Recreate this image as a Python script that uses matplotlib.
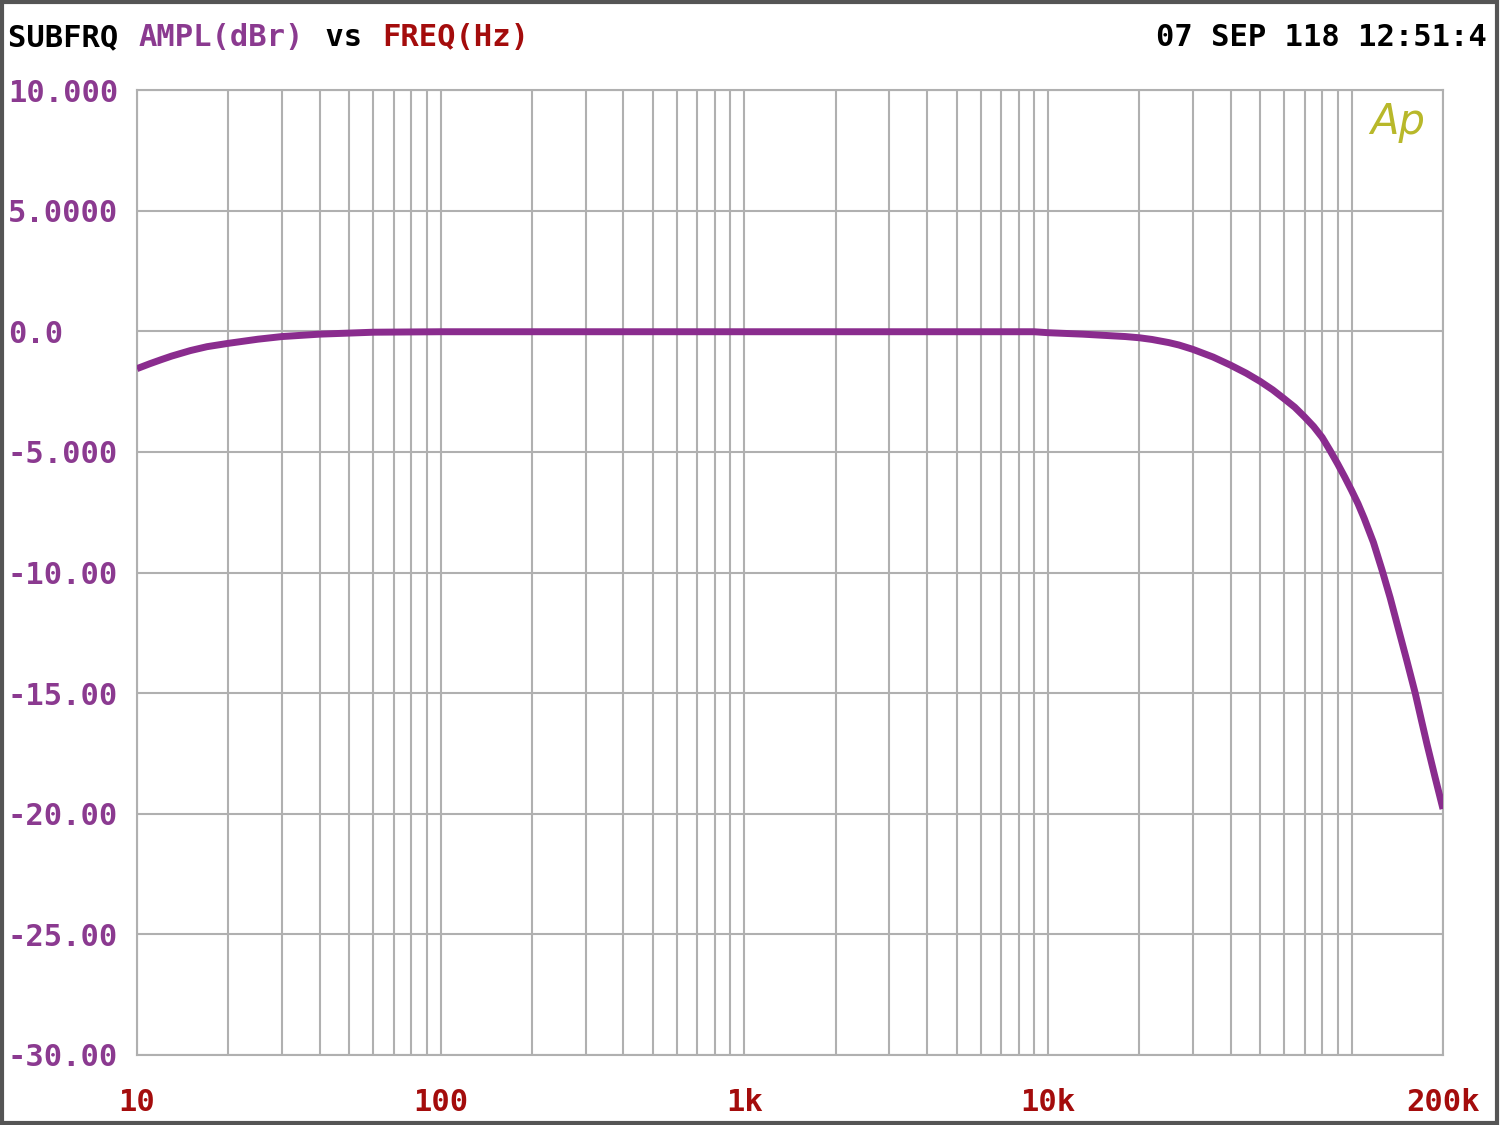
import matplotlib
matplotlib.use('Agg')
import matplotlib.pyplot as plt
from matplotlib.patches import Rectangle
from matplotlib.ticker import FixedLocator, NullFormatter

# 读图得到的频响数据
freq_hz = [10, 11, 12, 13, 15, 17, 20, 25, 30, 40, 60, 100, 1000, 9000,
           10000, 13000, 18000, 20000, 22000, 25000, 27000, 30000, 35000,
           40000, 45000, 50000, 55000, 60000, 65000, 70000, 75000, 80000,
           85000, 90000, 95000, 100000, 105000, 110000, 118000, 126000,
           134000, 142000, 152000, 162000, 170000, 177000, 188000, 200000]
ampl_dbr = [-1.55, -1.35, -1.18, -1.03, -0.80, -0.64, -0.50, -0.33, -0.22,
            -0.12, -0.04, -0.02, -0.02, -0.02, -0.06, -0.12, -0.22, -0.27,
            -0.34, -0.47, -0.57, -0.75, -1.07, -1.41, -1.74, -2.08, -2.43,
            -2.80, -3.15, -3.55, -3.95, -4.40, -4.95, -5.50, -6.05, -6.60,
            -7.15, -7.75, -8.75, -9.90, -11.05, -12.25, -13.65, -15.00,
            -16.15, -17.10, -18.45, -19.80]

y_ticks = [10, 5, 0, -5, -10, -15, -20, -25, -30]
y_labels = ['10.000', '5.0000', '0.0', '-5.000', '-10.00', '-15.00',
            '-20.00', '-25.00', '-30.00']
x_ticks = [10, 100, 1000, 10000, 200000]
x_labels = ['10', '100', '1k', '10k', '200k']

PURPLE = '#8a2c8e'
LABEL_PURPLE = '#8b3a90'
RED = '#a40c0c'
GRID = '#b0b0b0'

plt.rcParams['font.family'] = ['DejaVu Sans Mono', 'DejaVu Sans']

fig = plt.figure(figsize=(15, 11.25), dpi=100)
W, H = 1500, 1125
ax = fig.add_axes([137 / W, 1 - 1055 / H, (1443 - 137) / W, (1055 - 90) / H])

ax.plot(freq_hz, ampl_dbr, color=PURPLE, lw=5, solid_capstyle='butt',
        solid_joinstyle='round', zorder=3)

ax.set_xscale('log')
ax.set_xlim(10, 200000)
ax.set_ylim(-30, 10)

# 次网格线：每个十倍频程内 2..9
minor = [m * 10 ** d for d in range(1, 5) for m in range(2, 10) if m * 10 ** d < 200000]
minor += [100000]
ax.xaxis.set_minor_locator(FixedLocator(minor))
ax.xaxis.set_minor_formatter(NullFormatter())
ax.set_xticks(x_ticks)
ax.set_xticklabels(x_labels)
ax.set_yticks(y_ticks)
ax.set_yticklabels(y_labels)

ax.grid(True, which='both', axis='x', color=GRID, lw=1.5)
ax.grid(True, which='major', axis='y', color=GRID, lw=1.5)
for s in ax.spines.values():
    s.set_color(GRID)
    s.set_linewidth(1.5)

ax.tick_params(axis='both', which='both', length=0)
ax.tick_params(axis='y', pad=129 * 0.72, labelsize=22, labelcolor=LABEL_PURPLE)
ax.tick_params(axis='x', pad=24, labelsize=22, labelcolor=RED)
for t in ax.get_yticklabels():
    t.set_horizontalalignment('left')
    t.set_fontweight('bold')
for t in ax.get_xticklabels():
    t.set_fontweight('bold')

# 标题：等宽字体，按字符宽度拼接
char_w = 18.7
parts = [('SUBFRQ ', 'black'), ('AMPL(dBr)', LABEL_PURPLE), (' vs ', 'black'), ('FREQ(Hz)', RED)]
pos = 0
for txt, col in parts:
    fig.text((8 + pos * char_w) / W, 1 - 38 / H, txt, color=col, fontsize=22,
             fontweight='bold', ha='left', va='center')
    pos += len(txt)

fig.text(1487 / W, 1 - 38 / H, '07 SEP 118 12:51:4', color='black', fontsize=22,
         fontweight='bold', ha='right', va='center')

# Ap 标志
fig.text(1398 / W, 1 - 122 / H, 'Ap', color='#b8b82a', fontsize=30,
         family='DejaVu Sans', style='italic', fontweight='light', ha='center', va='center')

# 外边框
fig.patches.append(Rectangle((0.001, 0.002), 0.997, 0.996, transform=fig.transFigure,
                             fill=False, edgecolor='#555555', lw=3))

fig.savefig('out.png', dpi=100)
